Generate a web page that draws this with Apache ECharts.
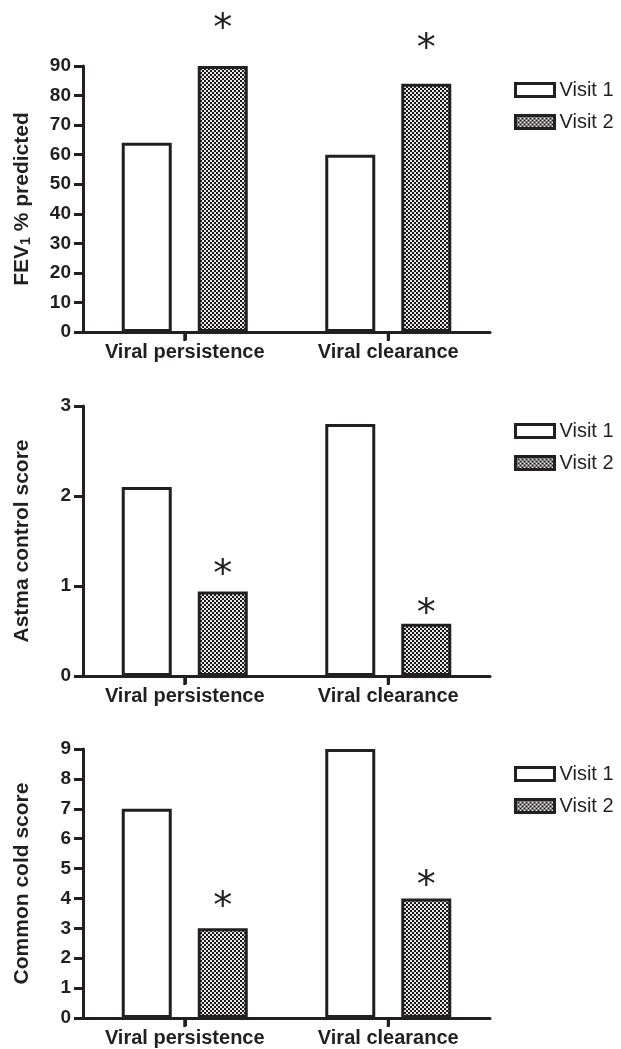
<!DOCTYPE html>
<html>
<head>
<meta charset="utf-8">
<script src="https://cdn.jsdelivr.net/npm/echarts@6/dist/echarts.min.js"></script>
<style>
  html, body { margin: 0; padding: 0; background: #fff; }
  #chart { width: 621px; height: 1049px; }
</style>
</head>
<body>
<div id="chart"></div>
<script>
// data
const categories = ['Viral persistence', 'Viral clearance']
const seriesNames = ['Visit 1', 'Visit 2']

const fevVisit1 = [64, 60]
const fevVisit2 = [90, 84]
const actVisit1 = [2.1, 2.8]
const actVisit2 = [0.94, 0.58]
const coldVisit1 = [7, 9]
const coldVisit2 = [3, 4]

const yNames = ['FEV{sub|1} % predicted', 'Astma control score', 'Common cold score']
const yMax = [90, 3, 9]
const yStep = [10, 1, 1]
const significance = ['*', '*']

// panel layout (pixels)
const panelTop = [66, 406, 749]
const panelHeight = [266, 270, 269]
const legendTop = [75, 416, 759]
const starDistance = [[17, 15], [-4, -10], [1, -8]]

const ink = '#231f20'
const font = '"Liberation Sans", Arial, sans-serif'

// checkerboard fill for Visit 2
const makeChecker = () => {
  const c = document.createElement('canvas')
  c.width = 4
  c.height = 4
  const ctx = c.getContext('2d')
  ctx.fillStyle = '#e8e8e8'
  ctx.fillRect(0, 0, 4, 4)
  ctx.fillStyle = '#1a1a1a'
  ctx.fillRect(0, 0, 2, 2)
  ctx.fillRect(2, 2, 2, 2)
  return { image: c, repeat: 'repeat' }
}
const checker = makeChecker()

const panels = [
  [fevVisit1, fevVisit2],
  [actVisit1, actVisit2],
  [coldVisit1, coldVisit2]
]

const chart = echarts.init(document.getElementById('chart'))

const grid = panels.map((_, p) => ({
  left: 83,
  right: 131,
  top: panelTop[p],
  height: panelHeight[p]
}))

const xAxis = panels.map((_, p) => ({
  type: 'category',
  gridIndex: p,
  data: categories,
  axisLine: { show: true, lineStyle: { color: ink, width: 3 } },
  axisTick: { show: true, alignWithLabel: true, length: 8, lineStyle: { color: ink, width: 3 } },
  axisLabel: {
    interval: 0,
    hideOverlap: false,
    color: ink,
    fontFamily: font,
    fontWeight: 'bold',
    fontSize: 20,
    margin: 10
  }
}))

const yAxis = panels.map((_, p) => ({
  type: 'value',
  gridIndex: p,
  min: 0,
  max: yMax[p],
  interval: yStep[p],
  name: yNames[p],
  nameLocation: 'middle',
  nameGap: 50,
  nameTextStyle: {
    color: ink,
    fontFamily: font,
    fontWeight: 'bold',
    fontSize: 21,
    rich: {
      sub: { fontFamily: font, fontWeight: 'bold', fontSize: 14, color: ink, verticalAlign: 'bottom', lineHeight: 10 }
    }
  },
  splitLine: { show: false },
  axisLine: { show: true, lineStyle: { color: ink, width: 3 } },
  axisTick: { show: true, length: 9, lineStyle: { color: ink, width: 3 } },
  axisLabel: { color: ink, fontFamily: font, fontWeight: 'bold', fontSize: 19, margin: 12 }
}))

const series = []
panels.forEach(([v1, v2], p) => {
  series.push({
    name: seriesNames[0],
    type: 'bar',
    xAxisIndex: p,
    yAxisIndex: p,
    barWidth: 50,
    barGap: '52%',
    data: v1,
    itemStyle: { color: '#fff', borderColor: ink, borderWidth: 3 }
  })
  series.push({
    name: seriesNames[1],
    type: 'bar',
    xAxisIndex: p,
    yAxisIndex: p,
    barWidth: 50,
    data: v2.map((v, i) => ({
      value: v,
      label: { distance: starDistance[p][i] }
    })),
    itemStyle: { color: checker, borderColor: ink, borderWidth: 3 },
    label: {
      show: true,
      position: 'top',
      formatter: (params) => significance[params.dataIndex],
      fontFamily: '"DejaVu Sans", sans-serif',
      fontSize: 38,
      color: ink
    }
  })
})

const legend = panels.map((_, p) => ({
  data: seriesNames,
  orient: 'vertical',
  left: 509,
  top: legendTop[p],
  icon: 'rect',
  itemWidth: 39,
  itemHeight: 13,
  itemGap: 12,
  selectedMode: false,
  itemStyle: { borderColor: ink, borderWidth: 3 },
  textStyle: { color: ink, fontFamily: font, fontSize: 20 }
}))

chart.setOption({
  animation: false,
  backgroundColor: '#fff',
  grid,
  xAxis,
  yAxis,
  legend,
  series
})

// category ticks under the x axis, placed through the axes' own scales
const tickMarks = []
panels.forEach((_, p) => {
  const y0 = chart.convertToPixel({ yAxisIndex: p }, 0)
  categories.forEach((cat, i) => {
    const x = chart.convertToPixel({ xAxisIndex: p }, i)
    tickMarks.push({
      type: 'rect',
      z: 100,
      shape: { x: x - 1.5, y: y0, width: 3, height: 9 },
      style: { fill: ink },
      silent: true
    })
  })
})
chart.setOption({ graphic: { elements: tickMarks } })
</script>
</body>
</html>
